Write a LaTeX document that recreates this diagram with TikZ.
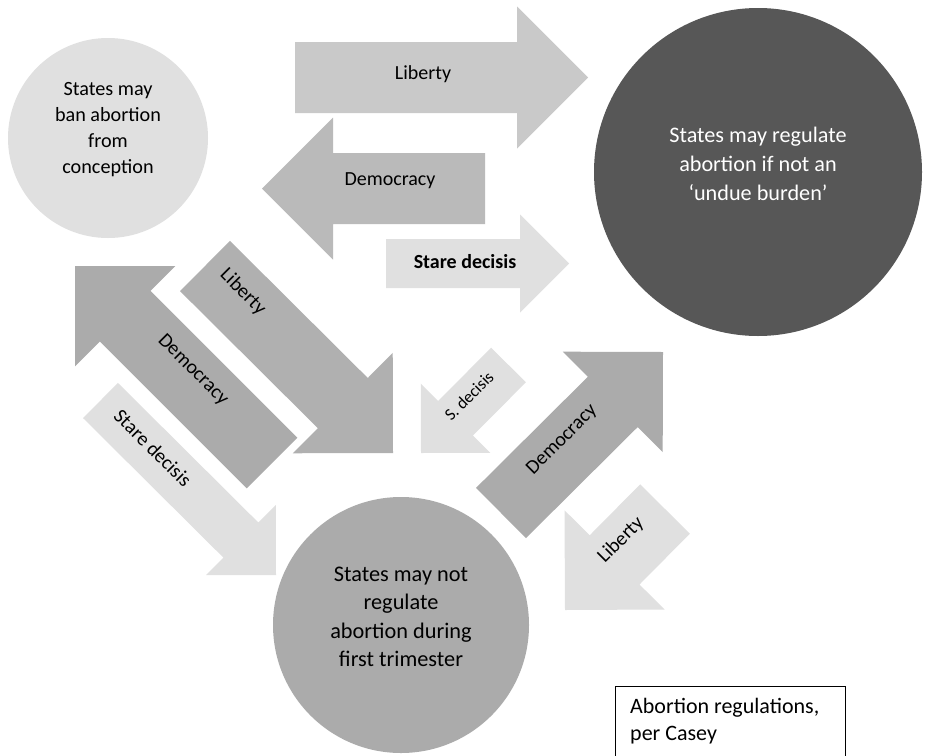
\documentclass[tikz,border=0pt]{standalone}
\usepackage{fontspec}
\setmainfont{Carlito}
\usetikzlibrary{calc}
\definecolor{cLight}{HTML}{E0E0E0}
\definecolor{cLibTop}{HTML}{C9C9C9}
\definecolor{cDemL}{HTML}{BABABA}
\definecolor{cMid}{HTML}{ABABAB}
\definecolor{cLibD}{HTML}{B0B0B0}
\definecolor{cDark}{HTML}{575757}
% name, back centre, tip, half width, head depth (=2 half width)
\newcommand\fatarrow[6]{%
  \coordinate (#1b) at (#2);
  \coordinate (#1t) at (#3);
  \coordinate (#1h) at ($(#1t)!#5!(#1b)$);
  \fill[#6] ($(#1b)!#4!90:(#1t)$) -- ($(#1h)!#4!90:(#1t)$) -- ($(#1h)!#5!90:(#1t)$)
    -- (#1t) -- ($(#1h)!#5!-90:(#1t)$) -- ($(#1h)!#4!-90:(#1t)$) -- ($(#1b)!#4!-90:(#1t)$) -- cycle;
}
\tikzset{
  circtext/.style={align=center, font=\fontsize{21}{27}\selectfont, inner sep=0pt},
  arrlabel/.style={font=\fontsize{20}{24}\selectfont, inner sep=0pt},
  bubble/.style={circle, inner sep=0pt, draw=none},
}
\begin{document}
\begin{tikzpicture}[x=1pt,y=-1pt]
\useasboundingbox (0,0) rectangle (926,755);
\clip (0,0) rectangle (926,755);
\fill[white] (0,0) rectangle (926,755);
% circles
\node[bubble, fill=cLight, minimum size=200pt] (c1) at (108,138) {};
\node[bubble, fill=cDark, minimum size=328pt] (c2) at (758,172) {};
\node[bubble, fill=cMid, minimum size=256pt] (c3) at (401,625) {};
\node[circtext, font=\fontsize{20.2}{26}\selectfont] (t1) at (108,130) {States may\\ban abortion\\from\\conception};
\node[circtext, text=white, font=\fontsize{22.2}{29}\selectfont] (t2) at (758,164) {States may regulate\\abortion if not an\\‘undue burden’};
\node[circtext, font=\fontsize{22.3}{28.5}\selectfont] (t3) at (401,617) {States may not\\regulate\\abortion during\\first trimester};
% arrows
\fatarrow{libTop}{295,77.5}{588,77.5}{35.5pt}{71pt}{cLibTop}
\fatarrow{demL}{485,188.5}{262,188.5}{35.5pt}{71pt}{cDemL}
\fatarrow{sdR}{386,263.5}{569,263.5}{24.5pt}{49pt}{cLight}
\fatarrow{libD}{205,266}{393,453}{35.4pt}{70.8pt}{cLibD}
\fatarrow{demUL}{272,463}{75,266}{35.8pt}{71pt}{cMid}
\fatarrow{sdD}{100.5,400.5}{276,575}{24.75pt}{49.5pt}{cLight}
\fatarrow{sdS}{508.5,365}{421,453}{24.5pt}{49pt}{cLight}
\fatarrow{demUR}{501,513}{663,352}{35.4pt}{70.8pt}{cMid}
\fatarrow{libS}{665,509}{565,610}{35pt}{70.5pt}{cLight}
% arrow labels
\node[arrlabel] (lLibTop) at (423,74) {Liberty};
\node[arrlabel] (lDemL) at (390,181) {Democracy};
\node[arrlabel, font=\fontsize{20}{24}\selectfont\bfseries] (lSdR) at (465,262) {Stare decisis};
\node[arrlabel, rotate=-45] (lLibD) at (243,292) {Liberty};
\node[arrlabel, rotate=-45] (lDemUL) at (193,370) {Democracy};
\node[arrlabel, rotate=-45] (lSdD) at (153,448) {Stare decisis};
\node[arrlabel, rotate=45, font=\fontsize{17}{20}\selectfont] (lSdS) at (469,396) {S. decisis};
\node[arrlabel, rotate=45] (lDemUR) at (562,440) {Democracy};
\node[arrlabel, rotate=45] (lLibS) at (621,540) {Liberty};
% caption box
\node[draw=black, line width=1.2pt, minimum width=230pt, minimum height=80pt, anchor=north west, inner sep=0pt] (box) at (615,686) {};
\node[align=left, anchor=north west, inner sep=0pt, font=\fontsize{22}{27}\selectfont] (boxtext) at (630,698) {Abortion regulations,\\per Casey};
\end{tikzpicture}
\end{document}
